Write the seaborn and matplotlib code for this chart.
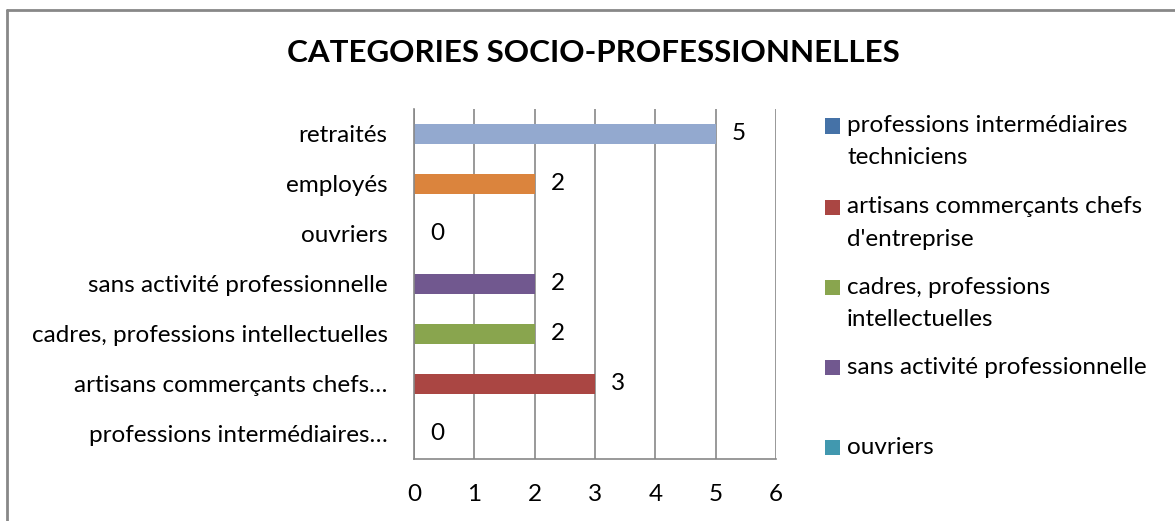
import matplotlib
matplotlib.use("Agg")
import matplotlib.pyplot as plt
from matplotlib.patches import Rectangle
from matplotlib.lines import Line2D
import seaborn as sns
import pandas as pd

# ---- data (top to bottom as shown) ----
categories = ["retraités", "employés", "ouvriers", "sans activité professionnelle",
              "cadres, professions intellectuelles",
              "artisans commerçants chefs d'entreprise",
              "professions intermédiaires techniciens"]
tick_labels = ["retraités", "employés", "ouvriers", "sans activité professionnelle",
               "cadres, professions intellectuelles",
               "artisans commerçants chefs…", "professions intermédiaires…"]
values = [5, 2, 0, 2, 2, 3, 0]
colors = ["#93A9CF", "#DB843D", "#4198AF", "#71588F", "#89A54E", "#AA4643", "#4572A7"]
x_ticks = [0, 1, 2, 3, 4, 5, 6]

legend_labels = ["professions intermédiaires\ntechniciens",
                 "artisans commerçants chefs\nd'entreprise",
                 "cadres, professions\nintellectuelles",
                 "sans activité professionnelle",
                 "ouvriers"]
legend_colors = ["#4572A7", "#AA4643", "#89A54E", "#71588F", "#4198AF"]
title = "CATEGORIES SOCIO-PROFESSIONNELLES"

sns.set_theme(style="white")
plt.rcParams["font.family"] = ["Lato", "DejaVu Sans"]

FS = 17.5
W, H = 1175, 521
fig = plt.figure(figsize=(W / 100, H / 100), dpi=100)
ax = fig.add_axes([414 / W, 1 - 459 / H, (776 - 414) / W, (459 - 109) / H])

df = pd.DataFrame({"cat": categories, "val": values})
sns.barplot(data=df, x="val", y="cat", hue="cat", palette=colors, order=categories,
            hue_order=categories, width=0.4, legend=False, ax=ax, saturation=1,
            edgecolor="none")

for c in ax.containers:
    ax.bar_label(c, fmt="%g", padding=11.5, fontsize=FS, color="black")

ax.set_xlim(0, 6)
ax.set_xticks(x_ticks)
ax.set_xticklabels([str(t) for t in x_ticks])
ax.set_yticks(range(len(categories)))
ax.set_yticklabels(tick_labels)
ax.set_xlabel("")
ax.set_ylabel("")
ax.tick_params(axis="x", length=0, pad=18, labelsize=FS, colors="black")
ax.tick_params(axis="y", length=0, pad=19, labelsize=FS, colors="black")
ax.grid(axis="x", color="#878787", linewidth=1.2)
ax.set_axisbelow(True)
for s in ["top", "right"]:
    ax.spines[s].set_visible(False)
for s in ["left", "bottom"]:
    ax.spines[s].set_color("#878787")
    ax.spines[s].set_linewidth(1.2)

# title
fig.text(593 / W, 1 - 53 / H, title, ha="center", va="center",
         fontsize=22.6, fontweight="bold", color="black")

# legend (manual, Excel-like fixed slots)
centers = [126, 207, 287, 367, 447]
for lab, col, cy in zip(legend_labels, legend_colors, centers):
    fig.add_artist(Rectangle((825 / W, 1 - (cy + 7.5) / H), 15 / W, 15 / H,
                             transform=fig.transFigure, facecolor=col, edgecolor="none"))
    lines = lab.split("\n")
    for i, ln in enumerate(lines):
        fig.text(847 / W, 1 - (cy + i * 32) / H, ln, ha="left", va="center",
                 fontsize=FS, color="black")

# chart frame (top and left edges visible)
fig.add_artist(Line2D([6.5 / W, 1], [1 - 9.5 / H, 1 - 9.5 / H], transform=fig.transFigure,
                      color="#888888", linewidth=2))
fig.add_artist(Line2D([6.5 / W, 6.5 / W], [0, 1 - 9.5 / H], transform=fig.transFigure,
                      color="#888888", linewidth=2))

fig.savefig("out.png", dpi=100)
